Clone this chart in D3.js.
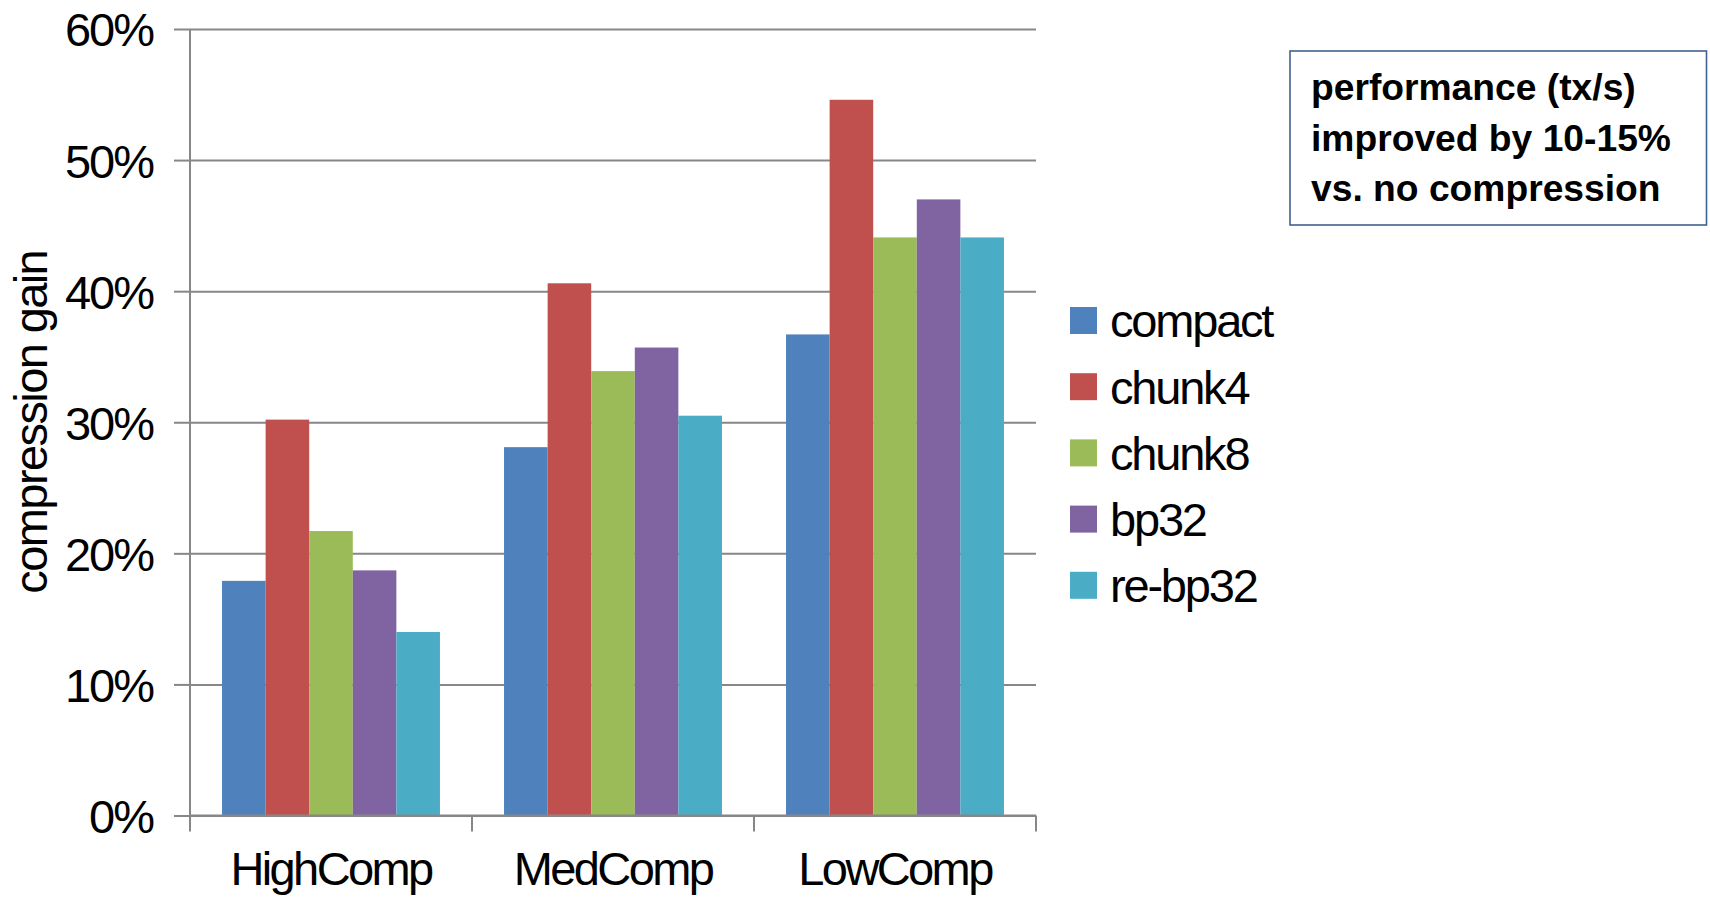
<!DOCTYPE html>
<html>
<head>
<meta charset="utf-8">
<script src="https://cdn.jsdelivr.net/npm/d3@7"></script>
<style>
  html, body { margin: 0; padding: 0; background: #fff; }
  svg { display: block; }
  text { font-family: "Liberation Sans", Arial, sans-serif; }
</style>
</head>
<body>
<svg id="chart" width="1710" height="897"></svg>
<script>
const categories = ["HighComp", "MedComp", "LowComp"];
const seriesNames = ["compact", "chunk4", "chunk8", "bp32", "re-bp32"];
const compact = [0.179, 0.281, 0.367];
const chunk4  = [0.302, 0.406, 0.546];
const chunk8  = [0.217, 0.339, 0.441];
const bp32    = [0.187, 0.357, 0.470];
const rebp32  = [0.140, 0.305, 0.441];
const seriesColors = ["#4f81bd", "#c0504d", "#9bbb59", "#8064a2", "#4bacc6"];
const yTicks = [0, 0.1, 0.2, 0.3, 0.4, 0.5, 0.6];
const yTitle = "compression gain";
const noteLines = ["performance (tx/s)", "improved by 10-15%", "vs. no compression"];

const seriesValues = [compact, chunk4, chunk8, bp32, rebp32];

const svg = d3.select("#chart");
const plotLeft = 190, plotRight = 1036, plotTop = 29, plotBottom = 815.5;

const x0 = d3.scaleBand().domain(categories).range([plotLeft, plotRight]).padding(0);
const x1 = d3.scaleBand().domain(seriesNames).range([0, x0.bandwidth()]).paddingInner(0).paddingOuter(0.735);
const y = d3.scaleLinear().domain([0, 0.6]).range([plotBottom, plotTop]);
const color = d3.scaleOrdinal().domain(seriesNames).range(seriesColors);

const gridColor = "#878787";
const fontSize = 47;

// gridlines
const grid = svg.append("g")
  .attr("transform", `translate(${plotLeft},0)`)
  .call(d3.axisLeft(y).tickValues(yTicks).tickSize(-(plotRight - plotLeft)).tickFormat(""));
grid.select(".domain").remove();
grid.selectAll("line").attr("stroke", gridColor).attr("stroke-width", 2);

// bars
const rows = [];
categories.forEach((c, ci) => {
  seriesNames.forEach((s, si) => rows.push({cat: c, series: s, value: seriesValues[si][ci]}));
});
svg.append("g").selectAll("rect").data(rows).join("rect")
  .attr("x", d => x0(d.cat) + x1(d.series))
  .attr("y", d => y(d.value))
  .attr("width", x1.bandwidth())
  .attr("height", d => y(0) - y(d.value))
  .attr("fill", d => color(d.series));

// y axis
const yAxis = svg.append("g")
  .attr("transform", `translate(${plotLeft},0)`)
  .call(d3.axisLeft(y).tickValues(yTicks).tickSize(16).tickSizeOuter(0).tickPadding(21).tickFormat(d3.format(".0%")));
yAxis.select(".domain").attr("stroke", gridColor).attr("stroke-width", 2)
  .attr("d", `M0,${plotTop}V${plotBottom + 16}`);
yAxis.selectAll("line").attr("stroke", gridColor).attr("stroke-width", 2);
yAxis.selectAll("text")
  .attr("font-size", fontSize).attr("letter-spacing", "-2px").attr("fill", "#000")
  .attr("font-family", '"Liberation Sans", Arial, sans-serif')
  .attr("dy", "0.36em");

// x axis line
svg.append("line")
  .attr("x1", plotLeft).attr("x2", plotRight).attr("y1", y(0)).attr("y2", y(0))
  .attr("stroke", gridColor).attr("stroke-width", 2);
// category boundary ticks
const bounds = categories.map(c => x0(c) + x0.bandwidth());
svg.append("g").selectAll("line").data(bounds).join("line")
  .attr("x1", d => d).attr("x2", d => d)
  .attr("y1", y(0)).attr("y2", y(0) + 16)
  .attr("stroke", gridColor).attr("stroke-width", 2);
// category labels
svg.append("g").selectAll("text").data(categories).join("text")
  .attr("x", d => x0(d) + x0.bandwidth() / 2)
  .attr("y", 885)
  .attr("text-anchor", "middle")
  .attr("font-size", fontSize).attr("letter-spacing", "-2.6px")
  .attr("fill", "#000")
  .text(d => d);

// y title
svg.append("text")
  .attr("transform", `translate(47,${(plotTop + plotBottom) / 2}) rotate(-90)`)
  .attr("text-anchor", "middle")
  .attr("font-size", fontSize).attr("letter-spacing", "-1.6px")
  .attr("fill", "#000")
  .text(yTitle);

// legend
const legend = svg.append("g");
seriesNames.forEach((s, i) => {
  const cy = 320.5 + i * 66.2;
  legend.append("rect")
    .attr("x", 1070).attr("y", cy - 13.5).attr("width", 27).attr("height", 27)
    .attr("fill", color(s));
  legend.append("text")
    .attr("x", 1110).attr("y", cy).attr("dy", "0.36em")
    .attr("font-size", fontSize).attr("letter-spacing", "-2.2px")
    .attr("fill", "#000")
    .text(s);
});

// annotation box
svg.append("rect")
  .attr("x", 1290).attr("y", 51).attr("width", 416.5).attr("height", 174)
  .attr("fill", "#fff").attr("stroke", "#3f6291").attr("stroke-width", 1.6);
const note = svg.append("g");
const baselines = [99.5, 150.5, 201];
const lineTexts = noteLines.map((t, i) => note.append("text")
  .attr("x", 1311).attr("y", baselines[i])
  .attr("font-family", "Lato, 'Open Sans', sans-serif")
  .attr("font-weight", "bold")
  .attr("font-size", 30)
  .attr("fill", "#000")
  .text(t));
const w = lineTexts[1].node().getComputedTextLength();
const fs = 30 * 360 / w;
lineTexts.forEach(t => t.attr("font-size", fs));
</script>
</body>
</html>
